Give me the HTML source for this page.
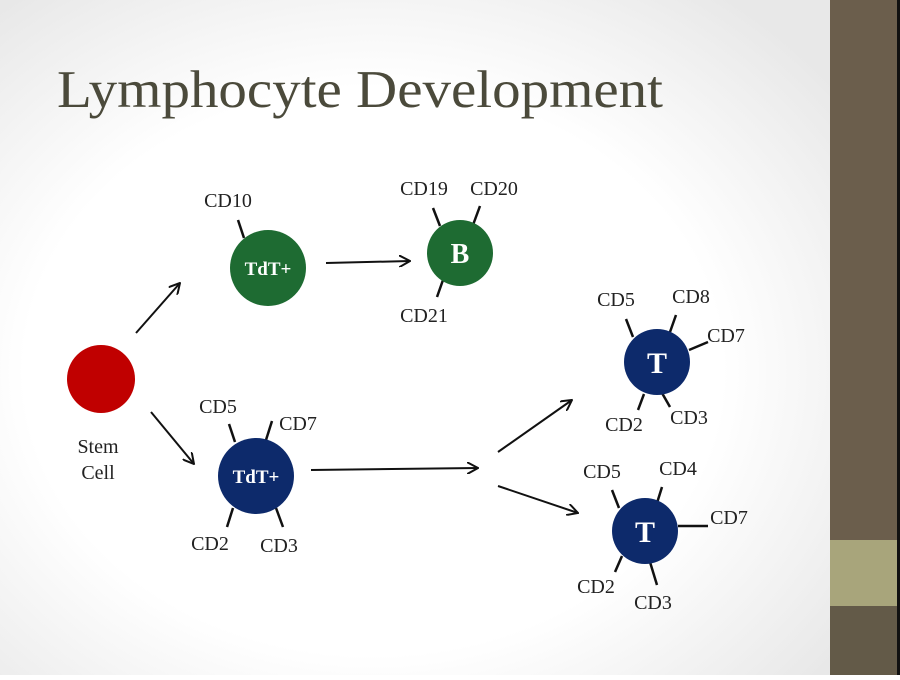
<!DOCTYPE html><html><head><style>body{margin:0;width:900px;height:675px;overflow:hidden;background:#fff}</style></head><body>
<svg width="900" height="675" xmlns="http://www.w3.org/2000/svg" font-family="Liberation Serif, serif">
<defs><radialGradient id="bg" cx="45%" cy="55%" r="70%"><stop offset="0.6" stop-color="#ffffff"/><stop offset="1" stop-color="#e8e8e8"/></radialGradient>
<marker id="a" markerWidth="12" markerHeight="12" refX="11" refY="6" orient="auto" markerUnits="userSpaceOnUse"><path d="M0,0 L11,6 L0,12" fill="none" stroke="#111" stroke-width="2"/></marker></defs>
<rect width="830" height="675" fill="url(#bg)"/>
<rect x="830" width="67" height="675" fill="#6b5e4c"/>
<rect x="830" y="540" width="67" height="66" fill="#a8a57b"/>
<rect x="830" y="606" width="67" height="69" fill="#635a48"/>
<rect x="897" width="3" height="675" fill="#111"/>
<text x="57" y="107" font-size="53" fill="#4b4a3b" textLength="606" lengthAdjust="spacingAndGlyphs">Lymphocyte Development</text>
<g stroke="#111" stroke-width="2" fill="none" marker-end="url(#a)">
<line x1="136" y1="333" x2="180" y2="283"/><line x1="151" y1="412" x2="194" y2="464"/>
<line x1="326" y1="263" x2="410" y2="261"/><line x1="311" y1="470" x2="478" y2="468"/>
<line x1="498" y1="452" x2="572" y2="400"/><line x1="498" y1="486" x2="578" y2="513"/>
</g>
<g stroke="#111" stroke-width="2.5">
<line x1="238" y1="220" x2="244" y2="238"/>
<line x1="433" y1="208" x2="440" y2="226"/><line x1="480" y1="206" x2="473" y2="225"/><line x1="443" y1="280" x2="437" y2="297"/>
<line x1="229" y1="424" x2="235" y2="442"/><line x1="272" y1="421" x2="266" y2="440"/><line x1="233" y1="508" x2="227" y2="527"/><line x1="276" y1="508" x2="283" y2="527"/>
<line x1="626" y1="319" x2="633" y2="337"/><line x1="676" y1="315" x2="670" y2="332"/><line x1="689" y1="350" x2="708" y2="342"/><line x1="644" y1="394" x2="638" y2="410"/><line x1="662" y1="393" x2="670" y2="407"/>
<line x1="612" y1="490" x2="619" y2="508"/><line x1="662" y1="487" x2="657" y2="503"/><line x1="678" y1="526" x2="708" y2="526"/><line x1="622" y1="556" x2="615" y2="572"/><line x1="650" y1="562" x2="657" y2="585"/>
</g>
<circle cx="101" cy="379" r="34" fill="#c00000"/>
<circle cx="268" cy="268" r="38" fill="#1e6b32"/>
<circle cx="460" cy="253" r="33" fill="#1e6b32"/>
<circle cx="256" cy="476" r="38" fill="#0d2a6b"/>
<circle cx="657" cy="362" r="33" fill="#0d2a6b"/>
<circle cx="645" cy="531" r="33" fill="#0d2a6b"/>
<g fill="#fff" font-weight="bold" text-anchor="middle">
<text x="268" y="275" font-size="19">TdT+</text><text x="460" y="263" font-size="28">B</text>
<text x="256" y="483" font-size="19">TdT+</text><text x="657" y="373" font-size="30">T</text><text x="645" y="542" font-size="30">T</text>
</g>
<g fill="#222" font-size="20" text-anchor="middle">
<text x="98" y="453">Stem</text><text x="98" y="479">Cell</text>
<text x="228" y="207">CD10</text>
<text x="424" y="195">CD19</text><text x="494" y="195">CD20</text><text x="424" y="322">CD21</text>
<text x="218" y="413">CD5</text><text x="298" y="430">CD7</text><text x="210" y="550">CD2</text><text x="279" y="552">CD3</text>
<text x="616" y="306">CD5</text><text x="691" y="303">CD8</text><text x="726" y="342">CD7</text><text x="624" y="431">CD2</text><text x="689" y="424">CD3</text>
<text x="602" y="478">CD5</text><text x="678" y="475">CD4</text><text x="729" y="524">CD7</text><text x="596" y="593">CD2</text><text x="653" y="609">CD3</text>
</g>
</svg></body></html>
